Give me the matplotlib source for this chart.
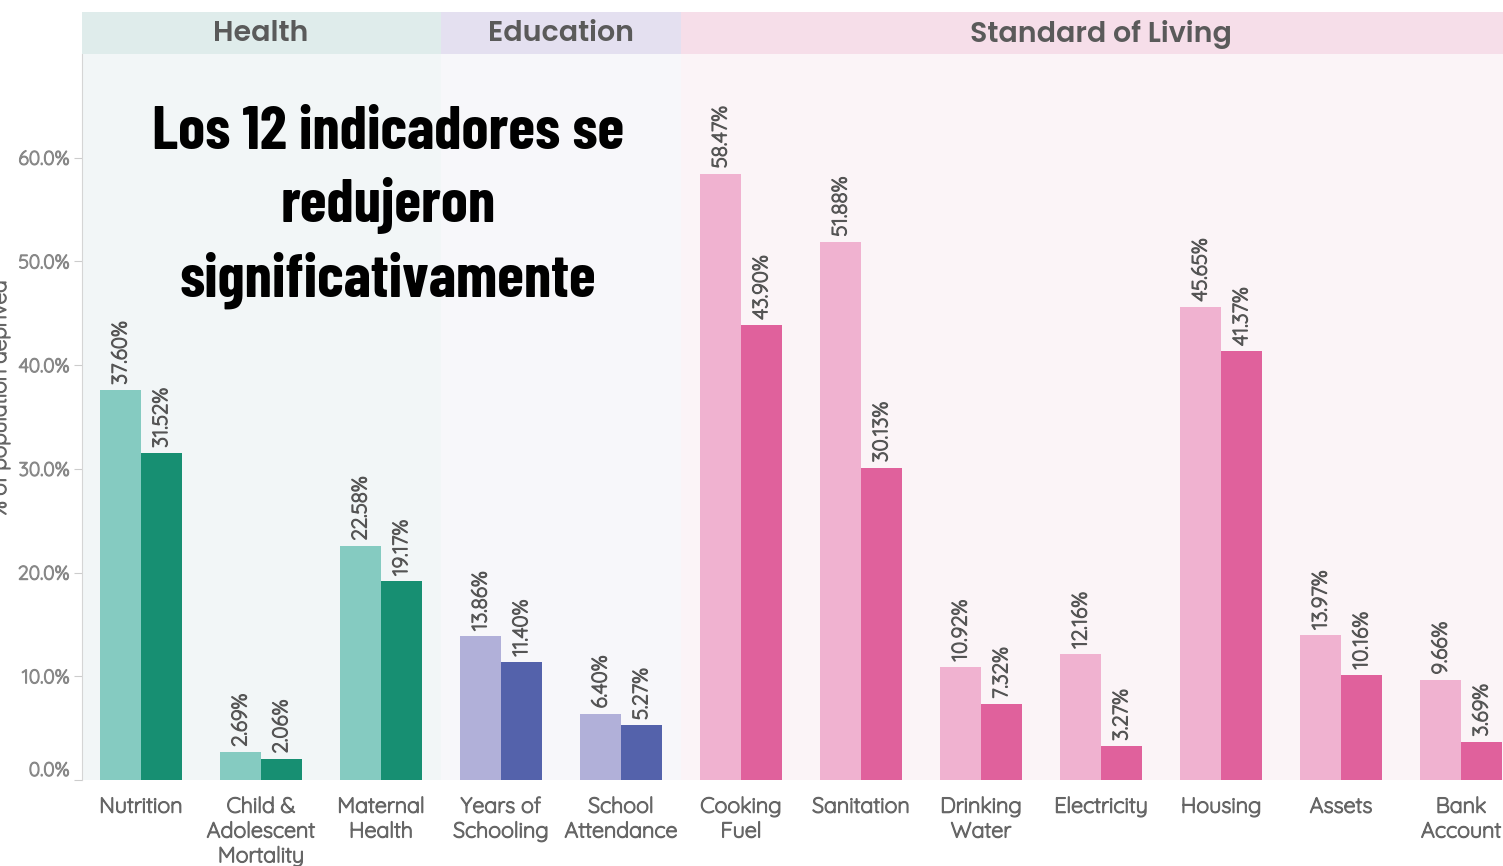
import matplotlib.pyplot as plt
import matplotlib.patheffects as pe

# deprivation by indicator, two survey rounds
indicators = ["Nutrition", "Child &\nAdolescent\nMortality", "Maternal\nHealth",
              "Years of\nSchooling", "School\nAttendance", "Cooking\nFuel",
              "Sanitation", "Drinking\nWater", "Electricity", "Housing",
              "Assets", "Bank\nAccount"]
before = [37.60, 2.69, 22.58, 13.86, 6.40, 58.47, 51.88, 10.92, 12.16, 45.65, 13.97, 9.66]
after = [31.52, 2.06, 19.17, 11.40, 5.27, 43.90, 30.13, 7.32, 3.27, 41.37, 10.16, 3.69]

dimensions = ["Health", "Education", "Standard of Living"]
dim_size = [3, 2, 7]

yticks = [0, 10, 20, 30, 40, 50, 60]

band_colors = ["#dfeceb", "#e4e0f0", "#f6dee9"]
bg_colors = ["#f2f6f7", "#f7f7fa", "#fbf4f7"]
light_colors = ["#85cbc1", "#b1b0d9", "#f0b2d0"]
dark_colors = ["#178f72", "#5462ab", "#e0619c"]

LABEL_FONT = ["Quicksand", "DejaVu Sans"]
HEAD_FONT = ["Poppins", "DejaVu Sans"]
TITLE_FONT = ["Barlow Condensed", "DejaVu Sans"]


def heavier(color, w=0.9):
    # quicksand only ships the light cut, thicken it a bit
    return [pe.withStroke(linewidth=w, foreground=color)]


W, H = 1503, 866
fig = plt.figure(figsize=(W / 100, H / 100), dpi=100)
ax = fig.add_axes([82 / W, (H - 780) / H, (W - 82) / W, (780 - 54) / H])
hdr = fig.add_axes([82 / W, (H - 54) / H, (W - 82) / W, 42 / H], sharex=ax)

bw = 0.34
start = 0
for d, n in enumerate(dim_size):
    lo, hi = start - 0.5, start + n - 0.5
    ax.axvspan(lo, hi, color=bg_colors[d], lw=0, zorder=0)
    hdr.axvspan(lo, hi, color=band_colors[d], lw=0)
    hdr.text((lo + hi) / 2, 0.47, dimensions[d], ha="center", va="center",
             fontsize=20.5, fontweight=600, family=HEAD_FONT, color="#5a5a5a")
    for i in range(start, start + n):
        ax.bar(i - bw / 2, before[i], bw, color=light_colors[d], zorder=2)
        ax.bar(i + bw / 2, after[i], bw, color=dark_colors[d], zorder=2)
        for x, v in [(i - bw / 2, before[i]), (i + bw / 2, after[i])]:
            ax.text(x, v + 0.5, f"{v:.2f}%", rotation=90, ha="center", va="bottom",
                    fontsize=15, family=LABEL_FONT, color="#555555", zorder=3,
                    path_effects=heavier("#555555"))
    start += n

ax.set_xlim(-0.49, 11.35)
ax.set_ylim(0, 70)
ax.set_xticks(range(len(indicators)))
ax.set_xticklabels(indicators, fontsize=15.5, family=LABEL_FONT, color="#666666",
                   linespacing=1.3)
for t in ax.get_xticklabels():
    t.set_path_effects(heavier("#666666"))
ax.tick_params(axis="x", length=0, pad=12)
ax.set_yticks(yticks)
ax.set_yticklabels([f"{t:.1f}%" for t in yticks], fontsize=14, family=LABEL_FONT,
                   color="#888888")
for t in ax.get_yticklabels():
    t.set_path_effects(heavier("#888888"))
ax.get_yticklabels()[0].set_va("bottom")
ax.tick_params(axis="y", length=6, color="#cccccc", pad=3)
for s in ["top", "right", "bottom"]:
    ax.spines[s].set_visible(False)
ax.spines["left"].set_color("#d5d5d5")

hdr.set_ylim(0, 1)
hdr.axis("off")

fig.text(0.0, 0.54, "% of population deprived", rotation=90, ha="center", va="center",
         fontsize=15, family=LABEL_FONT, color="#666666", path_effects=heavier("#666666"))

ax.text(2.06, 55.2, "Los 12 indicadores se\nredujeron\nsignificativamente",
        ha="center", va="center", fontsize=44, fontweight="bold", family=TITLE_FONT,
        color="black", linespacing=1.38, zorder=5)

fig.savefig("out.png", dpi=100)
